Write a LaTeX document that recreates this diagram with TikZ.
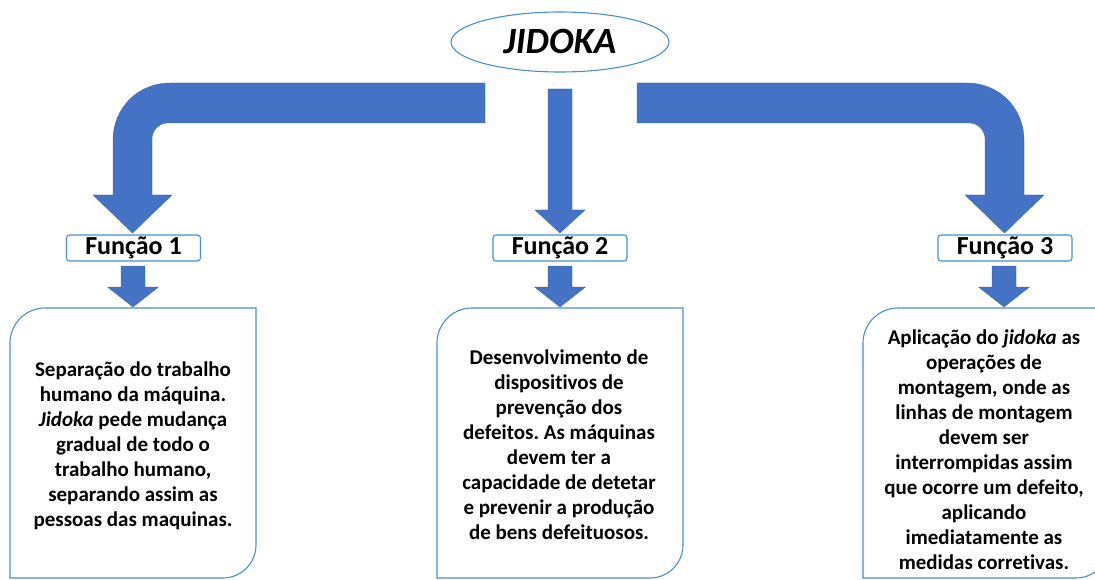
\documentclass[tikz,border=0pt]{standalone}
\usepackage{fontspec}
\setmainfont[Ligatures=NoCommon]{Carlito}
\usetikzlibrary{shapes.geometric}
\definecolor{arrowblue}{RGB}{68,114,196}
\definecolor{lineblue}{RGB}{72,142,212}
\frenchspacing
\tikzset{
  blockarrow/.style={fill=arrowblue, draw=arrowblue!85!black, line width=0.3pt},
  funcbox/.style={draw=lineblue, line width=1.1pt, rounded corners=3pt, minimum width=134pt, minimum height=26pt, inner sep=0pt, font=\fontsize{26}{28}\selectfont\bfseries},
  bodytext/.style={align=center, inner sep=0pt, font=\fontsize{21}{25}\selectfont\bfseries},
  textframe/.style={draw=lineblue, line width=1.1pt},
}
\begin{document}
\begin{tikzpicture}[x=1pt,y=-1pt]
\useasboundingbox (0,0) rectangle (1095,580);
\clip (0,0) rectangle (1095,580);
% title
\node[ellipse, draw=lineblue, line width=1.1pt, minimum width=218pt, minimum height=60pt, inner sep=0pt,
      font=\fontsize{37}{40}\selectfont\bfseries\itshape] (top) at (560,42) {JIDOKA};
% left bent arrow
\fill[blockarrow] (485,83) -- (485,123) -- (167,123)
   .. controls (158.7,123) and (152,131.3) .. (152,138)
   -- (152,195) -- (172,195) -- (132.5,233) -- (93,195) -- (113,195) -- (113,140)
   .. controls (113,108.5) and (137.6,83) .. (170,83) -- cycle;
% centre arrow
\fill[blockarrow] (548,89) -- (572,89) -- (572,210) -- (585,210) -- (560,233) -- (535,210) -- (548,210) -- cycle;
% right bent arrow
\fill[blockarrow] (637,83) -- (637,123) -- (970,123)
   .. controls (978.3,123) and (985,131.3) .. (985,138)
   -- (985,195) -- (965,195) -- (1004.5,233) -- (1044,195) -- (1024,195) -- (1024,140)
   .. controls (1024,108.5) and (999.4,83) .. (967,83) -- cycle;
% function boxes
\node[funcbox] (f1) at (133.5,248) {Função 1};
\node[funcbox] (f2) at (560,248) {Função 2};
\node[funcbox] (f3) at (1005,248) {Função 3};
% small arrows
\foreach \cx in {133,560,1004}{
  \fill[blockarrow] (\cx-12,266) -- (\cx+12,266) -- (\cx+12,287) -- (\cx+25.5,287) -- (\cx,307) -- (\cx-25.5,287) -- (\cx-12,287) -- cycle;
}
% text frames (rounded top-left and bottom-right corners)
\foreach \lx in {10,437,863}{
  \draw[textframe] (\lx,343) .. controls (\lx,323.7) and (\lx+15.7,308) .. (\lx+35,308)
     -- (\lx+246,308) -- (\lx+246,545)
     .. controls (\lx+246,563.2) and (\lx+231.2,578) .. (\lx+213,578)
     -- (\lx,578) -- cycle;
}
\node[bodytext] (t1) at (133,446) {Separação do trabalho\\humano da máquina.\\\textit{Jidoka} pede mudança\\gradual de todo o\\trabalho humano,\\separando assim as\\pessoas das maquinas.};
\node[bodytext] (t2) at (559,445) {Desenvolvimento de\\dispositivos de\\prevenção dos\\defeitos. As máquinas\\devem ter a\\capacidade de detetar\\e prevenir a produção\\de bens defeituosos.};
\node[bodytext] (t3) at (984,450) {Aplicação do \textit{jidoka} as\\operações de\\montagem, onde as\\linhas de montagem\\devem ser\\interrompidas assim\\que ocorre um defeito,\\aplicando\\imediatamente as\\medidas corretivas.};
\end{tikzpicture}
\end{document}
